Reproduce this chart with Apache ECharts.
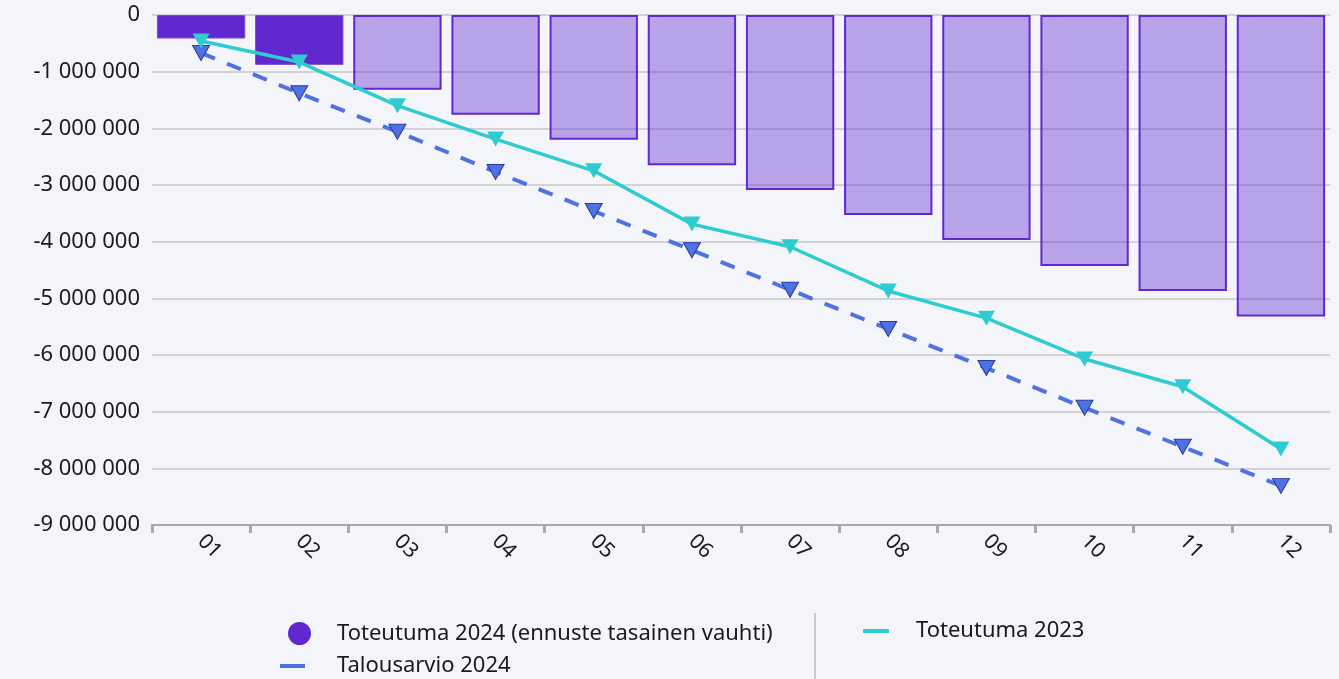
<!DOCTYPE html>
<html>
<head>
<meta charset="utf-8">
<script src="https://cdn.jsdelivr.net/npm/echarts@6/dist/echarts.min.js"></script>
<style>
  html, body { margin: 0; padding: 0; background: #f4f5fa; }
  #chart { width: 1339px; height: 679px; }
</style>
</head>
<body>
<div id="chart"></div>
<script>
// kuukaudet
const months = ['01', '02', '03', '04', '05', '06', '07', '08', '09', '10', '11', '12'];
// Toteutuma 2024 (kaksi ensimmäistä toteutunutta, loput ennustetta)
const actual2024 = [-415000, -880000, -1320000, -1760000, -2200000, -2650000, -3090000, -3530000, -3970000, -4430000, -4870000, -5320000];
const actualMonths = 2;
// Talousarvio 2024
const budget2024 = [-670000, -1380000, -2060000, -2770000, -3460000, -4150000, -4850000, -5540000, -6230000, -6930000, -7620000, -8310000];
// Toteutuma 2023
const actual2023 = [-460000, -830000, -1600000, -2190000, -2750000, -3690000, -4090000, -4870000, -5350000, -6070000, -6560000, -7660000];

const FONT = '"Noto Sans", sans-serif';
const DARK = '#6029cf';

const fmt = v => {
  const s = Math.abs(v).toString().replace(/\B(?=(\d{3})+(?!\d))/g, ' ');
  return (v < 0 ? '-' : '') + s;
};

const chart = echarts.init(document.getElementById('chart'));

const legendText = pad => ({ fontFamily: FONT, fontSize: 22, color: '#1a1a1a', padding: [0, 0, 0, pad] });
// legendan viivaikonit yhtenäisinä palkkeina
const lineIcon = (name, color) => ({
  name, icon: 'rect',
  itemStyle: { color, borderWidth: 0, borderType: 'solid' }
});

const option = {
  backgroundColor: '#f4f5fa',
  animation: false,
  grid: { left: 152, right: 9, top: 15, bottom: 154 },
  legend: [
    {
      data: [{ name: 'Toteutuma 2024 (ennuste tasainen vauhti)', icon: 'circle' }],
      left: 283, top: 617,
      itemWidth: 23, itemHeight: 23,
      textStyle: legendText(21)
    },
    {
      data: [lineIcon('Talousarvio 2024', '#4f72e3')],
      left: 275, top: 650,
      itemWidth: 25, itemHeight: 4,
      lineStyle: { type: 'solid', width: 0 },
      textStyle: legendText(27)
    },
    {
      data: [lineIcon('Toteutuma 2023', '#2ecbd0')],
      left: 858, top: 615,
      itemWidth: 26, itemHeight: 4,
      lineStyle: { type: 'solid', width: 0 },
      textStyle: legendText(22)
    }
  ],
  graphic: [{
    type: 'line',
    shape: { x1: 815, y1: 613, x2: 815, y2: 679 },
    style: { stroke: '#c8c8c8', lineWidth: 2 }
  }],
  xAxis: {
    type: 'category',
    data: months,
    position: 'bottom',
    axisLine: { onZero: false, lineStyle: { color: '#a9a9ad', width: 2 } },
    axisTick: { show: true, length: 8, lineStyle: { color: '#a9a9ad', width: 3 } },
    axisLabel: { rotate: -45, margin: 13, fontFamily: FONT, fontSize: 21, color: '#1a1a1a' }
  },
  yAxis: {
    type: 'value',
    min: -9000000,
    max: 0,
    interval: 1000000,
    axisLine: { show: false },
    axisTick: { show: false },
    splitLine: { lineStyle: { color: '#d2d2d6', width: 2 } },
    axisLabel: { margin: 12, fontFamily: FONT, fontSize: 22, color: '#1a1a1a', formatter: fmt }
  },
  series: [
    {
      name: 'Toteutuma 2024 (ennuste tasainen vauhti)',
      type: 'bar',
      barWidth: '90%',
      itemStyle: { color: DARK },
      data: actual2024.map((v, i) => i < actualMonths
        ? { value: v, itemStyle: { color: DARK, borderColor: '#7a4ad8', borderWidth: 1 } }
        : { value: v, itemStyle: { color: 'rgba(96,41,207,0.4)', borderColor: DARK, borderWidth: 2 } })
    },
    {
      name: 'Talousarvio 2024',
      type: 'line',
      data: budget2024,
      symbol: 'triangle',
      symbolRotate: 180,
      symbolSize: [17, 15],
      lineStyle: { color: '#4f72e3', width: 4, type: [15, 13] },
      itemStyle: { color: '#4f72e3', borderColor: '#2a3a9e', borderWidth: 1 }
    },
    {
      name: 'Toteutuma 2023',
      type: 'line',
      data: actual2023,
      symbol: 'triangle',
      symbolRotate: 180,
      symbolSize: [17, 15],
      lineStyle: { color: '#2ecbd0', width: 3.5 },
      itemStyle: { color: '#2ecbd0' }
    }
  ]
};

chart.setOption(option);
</script>
</body>
</html>
